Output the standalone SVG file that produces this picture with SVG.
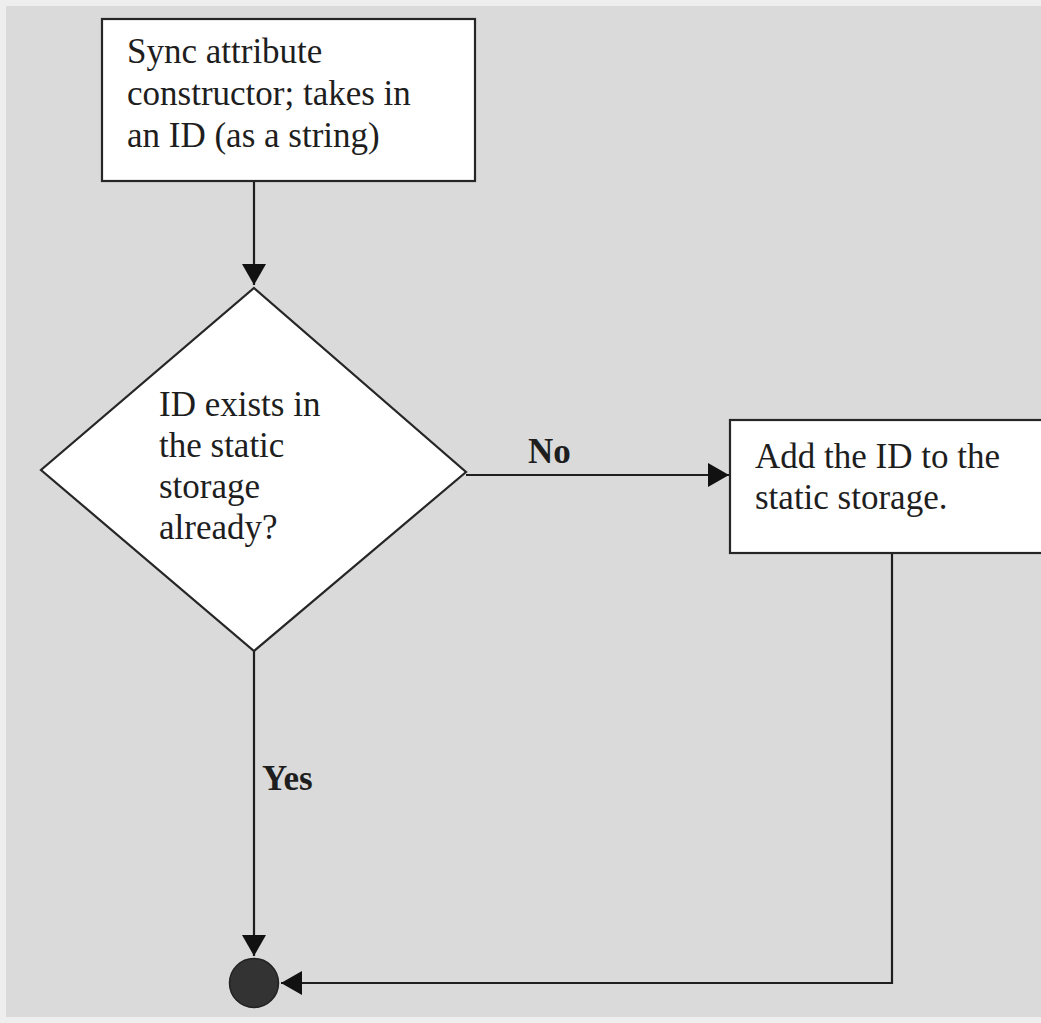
<svg xmlns="http://www.w3.org/2000/svg" width="1041" height="1023" viewBox="0 0 1041 1023">
  <defs>
    <style>
      .box { fill: #ffffff; stroke: #262626; stroke-width: 2.2; }
      .label { font-family: "Liberation Serif", "Times New Roman", serif; font-size: 35px; fill: #1e1e1e; }
      .edge-label { font-family: "Liberation Serif", "Times New Roman", serif; font-size: 35px; font-weight: bold; fill: #1e1e1e; }
      .wire { fill: none; stroke: #1e1e1e; stroke-width: 2.2; }
    </style>
    <marker id="arrow" markerUnits="userSpaceOnUse" markerWidth="22" markerHeight="26" refX="21" refY="13" orient="auto">
      <path d="M0,1 L21,13 L0,25 Z" fill="#111111"/>
    </marker>
  </defs>

  <!-- canvas -->
  <rect x="0" y="0" width="1041" height="1023" fill="#eeeeee"/>
  <rect x="6" y="6" width="1035" height="1011" fill="#dadada"/>

  <!-- connectors -->
  <g id="connectors">
    <path class="wire" d="M254,181 L254,285" marker-end="url(#arrow)"/>
    <path class="wire" d="M466,475 L729,475" marker-end="url(#arrow)"/>
    <path class="wire" d="M254,651 L254,956" marker-end="url(#arrow)"/>
    <path class="wire" d="M892,553 L892,983 L281,983" marker-end="url(#arrow)"/>
    <text class="edge-label" x="528" y="463">No</text>
    <text class="edge-label" x="262" y="790">Yes</text>
  </g>

  <!-- start: constructor -->
  <g id="node-constructor">
    <rect class="box" x="102" y="19" width="373" height="162"/>
    <text class="label" x="127" y="63">Sync attribute</text>
    <text class="label" x="127" y="105">constructor; takes in</text>
    <text class="label" x="127" y="147">an ID (as a string)</text>
  </g>

  <!-- decision: already stored? -->
  <g id="node-exists">
    <polygon class="box" points="254,288 466,472 254,651 41,470"/>
    <text class="label" x="159" y="416">ID exists in</text>
    <text class="label" x="159" y="457">the static</text>
    <text class="label" x="159" y="498">storage</text>
    <text class="label" x="159" y="539">already?</text>
  </g>

  <!-- action: add id -->
  <g id="node-add">
    <rect class="box" x="730" y="420" width="316" height="133"/>
    <text class="label" x="755" y="468">Add the ID to the</text>
    <text class="label" x="755" y="509">static storage.</text>
  </g>

  <!-- end -->
  <g id="node-end">
    <circle cx="254" cy="983" r="24.5" fill="#333333" stroke="#222222" stroke-width="1.5"/>
  </g>
</svg>
